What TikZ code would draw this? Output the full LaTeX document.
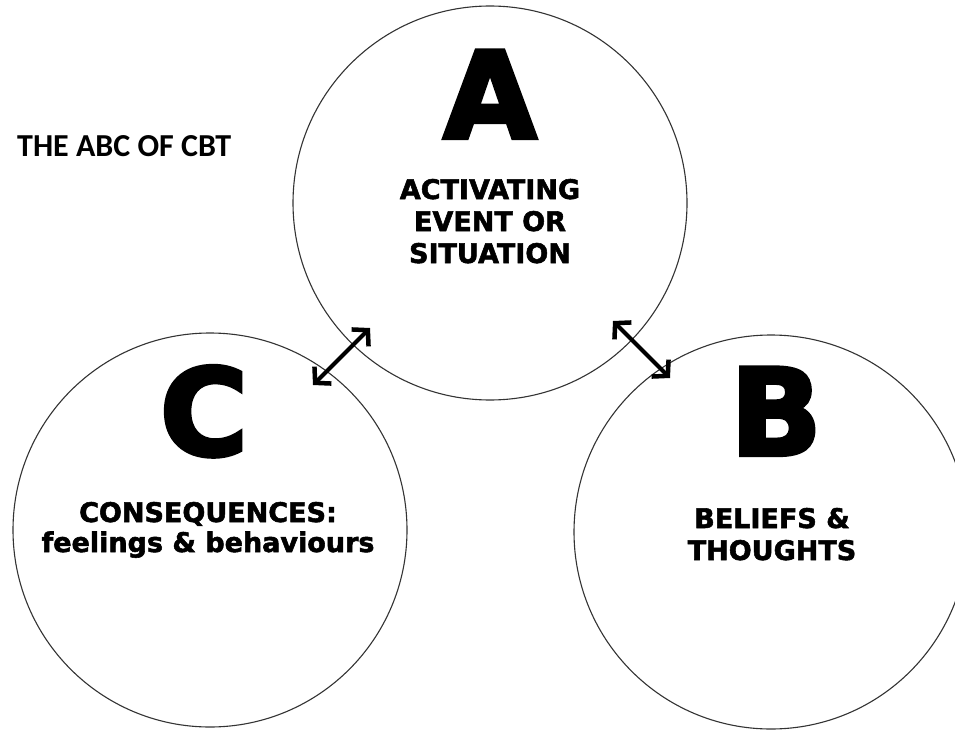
\documentclass[tikz,border=0pt]{standalone}
\usepackage{fontspec}
\usetikzlibrary{arrows.meta}
\newfontfamily\heavyfont{DejaVu Sans}[UprightFont={* Bold},FakeBold=2]
\newfontfamily\blackfont{DejaVu Sans}[UprightFont={* Bold},FakeBold=3.5]
\newfontfamily\titlefont{Carlito}[UprightFont={* Bold}]

\tikzset{
  ring/.style={circle, draw=black!80, line width=1.1pt, minimum size=394pt, inner sep=0pt},
  bigletter/.style={font=\blackfont\fontsize{120}{120}\selectfont, inner sep=0pt, anchor=base},
  caption/.style={font=\heavyfont\fontsize{27}{32}\selectfont, align=center, inner sep=0pt, anchor=base},
  twoway/.style={{Straight Barb[length=11pt,width=24pt,line width=4.5pt]}-{Straight Barb[length=11pt,width=24pt,line width=4.5pt]}, line width=4pt}
}

\begin{document}
\begin{tikzpicture}[x=1pt,y=-1pt]
  \useasboundingbox (0,0) rectangle (955,730);
  % the three circles
  \node[ring] (circA) at (490,203) {};
  \node[ring] (circC) at (210,530) {};
  \node[ring] (circB) at (771,532) {};
  % letters
  \node[bigletter] (letA) at (490,138) {A};
  \node[bigletter] (letC) at (204,455) {C};
  \node[bigletter] (letB) at (776,455) {B};
  % captions (base = last line)
  \node[caption] (capA) at (490,263) {ACTIVATING\\EVENT OR\\SITUATION};
  \node[caption, font=\heavyfont\fontsize{27}{30}\selectfont] (capC) at (208,552) {CONSEQUENCES:\\feelings \& behaviours};
  \node[caption] (capB) at (772,560) {BELIEFS \&\\THOUGHTS};
  \node[font=\titlefont\fontsize{32}{32}\selectfont, anchor=base west, inner sep=0pt] (title) at (17,157) {THE ABC OF CBT};
  % arrows between circles
  \coordinate (ca1) at (313,385);
  \coordinate (ca2) at (370,328);
  \coordinate (ab1) at (613,321);
  \coordinate (ab2) at (670,378);
  \draw[twoway] (ca1) -- (ca2);
  \draw[twoway] (ab1) -- (ab2);
\end{tikzpicture}
\end{document}
